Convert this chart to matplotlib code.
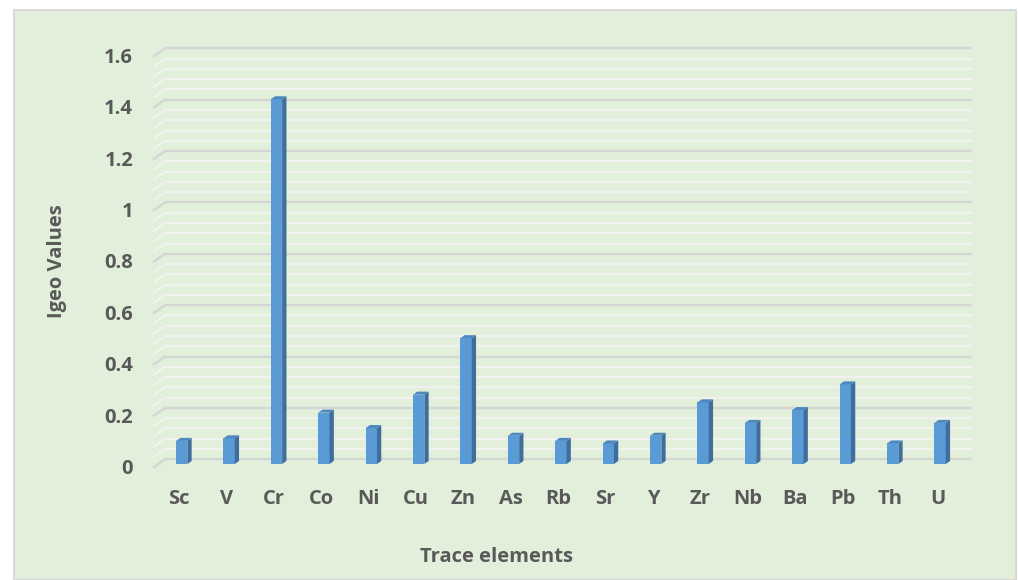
import numpy as np
import matplotlib
matplotlib.use("Agg")
import matplotlib.pyplot as plt
from matplotlib.patches import Polygon, Rectangle

# Igeo index per trace element
elements = ["Sc", "V", "Cr", "Co", "Ni", "Cu", "Zn", "As", "Rb",
            "Sr", "Y", "Zr", "Nb", "Ba", "Pb", "Th", "U"]
igeo = [0.09, 0.10, 1.42, 0.20, 0.14, 0.27, 0.49, 0.11, 0.09,
        0.08, 0.11, 0.24, 0.16, 0.21, 0.31, 0.08, 0.16]
y_ticks = [0, 0.2, 0.4, 0.6, 0.8, 1, 1.2, 1.4, 1.6]
y_tick_labels = ["0", "0.2", "0.4", "0.6", "0.8", "1", "1.2", "1.4", "1.6"]

W, H, DPI = 1018, 580, 100
TEXT = "#595959"
FONT = "Open Sans"
FS = 14.5

fig = plt.figure(figsize=(W / DPI, H / DPI), dpi=DPI, facecolor="white")

# chart area panel
fig.patches.append(Rectangle((14 / W, 0), (1016 - 14) / W, (H - 10) / H,
                             transform=fig.transFigure, facecolor="#E2EFDA",
                             edgecolor="#D9D9D9", linewidth=1.5, zorder=-10))

# axes = front plane on which the columns stand
ax_l, ax_r, ax_t, ax_b = 165, 972, 53, 464
ax = fig.add_axes([ax_l / W, (H - ax_b) / H, (ax_r - ax_l) / W, (ax_b - ax_t) / H])
ax.set_zorder(1)
ax.set_facecolor("none")
for s in ax.spines.values():
    s.set_visible(False)

step = 47.4
xmin = -(181.7 - ax_l) / step
xmax = xmin + (ax_r - ax_l) / step
ax.set_xlim(xmin, xmax)
ax.set_ylim(0, 1.6)
ax.set_xticks([])
ax.set_yticks([])

px_x = (xmax - xmin) / (ax_r - ax_l)   # data units per pixel (x)
px_y = 1.6 / (ax_b - ax_t)             # data units per pixel (y)

# back-wall gridlines (raised by the wall depth) with the side-wall stubs
wall_up = 4.7 * px_y
minor = np.round(np.arange(0, 1.6001, 0.04), 4)
for v in minor:
    is_major = abs(v / 0.2 - round(v / 0.2)) < 1e-6
    col = "#D5D5D5" if is_major else "#F3F3F3"
    lw = 1.7 if is_major else 1.3
    yb = v + wall_up
    ax.plot([xmin, xmax], [yb, yb], color=col, lw=lw, zorder=1,
            solid_capstyle="butt", clip_on=False)
    ax.plot([xmin - 11 * px_x, xmin], [yb - 7.7 * px_y, yb], color=col, lw=lw,
            zorder=1, clip_on=False)

# 3D-looking columns
bw = 11.3 * px_x
dx, dy = 4.3 * px_x, 3 * px_y
xs = np.arange(len(elements))
ax.bar(xs, igeo, width=bw, color="#5B9BD5", zorder=3, linewidth=0, clip_on=False)
for x, v in zip(xs, igeo):
    r = x + bw / 2
    l = x - bw / 2
    ax.add_patch(Polygon([(r, 0), (r + dx, dy), (r + dx, v + dy), (r, v)],
                         closed=True, facecolor="#3F6E9C", edgecolor="none",
                         zorder=3, clip_on=False))
    ax.add_patch(Polygon([(l, v), (l + dx, v + dy), (r + dx, v + dy), (r, v)],
                         closed=True, facecolor="#4D88C0", edgecolor="none",
                         zorder=3, clip_on=False))

# category labels
for x, name in zip(xs, elements):
    ax.text(x - 2.7 * px_x, -35 * px_y, name, ha="center", va="center",
            fontsize=FS, fontweight="bold", color=TEXT, family=FONT, clip_on=False)

# value labels beside the side wall
for v, lab in zip(y_ticks, y_tick_labels):
    ax.text(xmin - 32 * px_x, v - 5 * px_y, lab, ha="right", va="center",
            fontsize=FS, fontweight="bold", color=TEXT, family=FONT, clip_on=False)

fig.text(57 / W, 1 - 261 / H, "Igeo Values", rotation=90, ha="center", va="center",
         fontsize=FS, fontweight="bold", color=TEXT, family=FONT)
fig.text(496 / W, 1 - 557 / H, "Trace elements", ha="center", va="center",
         fontsize=FS, fontweight="bold", color=TEXT, family=FONT)

fig.savefig("out.png", dpi=DPI, facecolor=fig.get_facecolor())
